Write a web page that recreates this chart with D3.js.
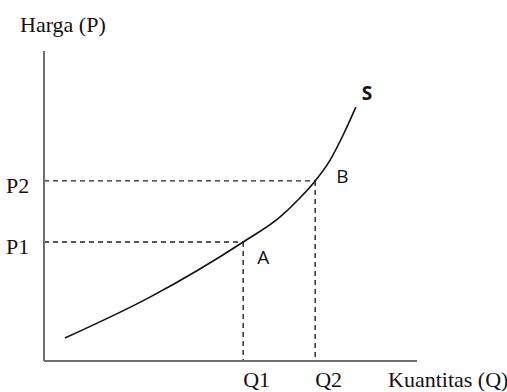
<!DOCTYPE html>
<html>
<head>
<meta charset="utf-8">
<script src="https://cdn.jsdelivr.net/npm/d3@7"></script>
<style>
	body { margin: 0; background: #fff; }
	svg { display: block; }
</style>
</head>
<body>
<div id="chart"></div>
<script>
var WIDTH = 507;
var HEIGHT = 392;

// supply curve S, in arbitrary units (0..100 on both axes)
var curveQ = [5.6, 28.4, 53.4, 63.3, 68.6, 72.7, 76.7, 80.2, 83.6];
var curveP = [7.4, 20.6, 38.4, 46.5, 52.6, 58.1, 64.8, 72.9, 81.9];

// the two marked points
var pointNames = ["A", "B"];
var pointQ = [53.4, 72.7];
var pointP = [38.4, 58.1];
var qLabels = ["Q1", "Q2"];
var pLabels = ["P1", "P2"];

var margin = { top: 51, right: 90, bottom: 31, left: 44 };

var svg = d3.select("#chart")
	.append("svg")
	.attr("width", WIDTH)
	.attr("height", HEIGHT);

var x = d3.scaleLinear().domain([0, 100]).range([margin.left, WIDTH - margin.right]);
var y = d3.scaleLinear().domain([0, 100]).range([HEIGHT - margin.bottom, margin.top]);

var serif = "'Liberation Serif', 'Times New Roman', serif";
var sans = "'Open Sans', 'Liberation Sans', sans-serif";

// dashed guides
var guides = svg.append("g")
	.attr("stroke", "#222")
	.attr("stroke-width", 1.4)
	.attr("stroke-dasharray", "5,4")
	.attr("fill", "none");

pointQ.forEach(function(q, i) {
	guides.append("line")
		.attr("x1", x(0)).attr("x2", x(q))
		.attr("y1", y(pointP[i])).attr("y2", y(pointP[i]));
	guides.append("line")
		.attr("x1", x(q)).attr("x2", x(q))
		.attr("y1", y(pointP[i])).attr("y2", y(0));
});

// axes
svg.append("line")
	.attr("x1", x(0)).attr("x2", x(0))
	.attr("y1", y(100)).attr("y2", y(0))
	.attr("stroke", "#6e6e6e").attr("stroke-width", 2);
svg.append("line")
	.attr("x1", x(0)).attr("x2", x(100))
	.attr("y1", y(0)).attr("y2", y(0))
	.attr("stroke", "#6e6e6e").attr("stroke-width", 2);

// curve
var line = d3.line()
	.x(function(d) { return x(d[0]); })
	.y(function(d) { return y(d[1]); })
	.curve(d3.curveMonotoneX);

svg.append("path")
	.datum(d3.zip(curveQ, curveP))
	.attr("d", line)
	.attr("fill", "none")
	.attr("stroke", "#111")
	.attr("stroke-width", 1.6);

// text labels
function label(txt, px, py, family, size, anchor, weight) {
	return svg.append("text")
		.attr("x", px).attr("y", py)
		.attr("text-anchor", anchor || "start")
		.style("font-family", family)
		.style("font-size", size + "px")
		.style("font-weight", weight || "normal")
		.attr("fill", "#111")
		.text(txt);
}

label("Harga (P)", 20, 32, serif, 22);
label("Kuantitas (Q)", 388, 387, serif, 22);

pLabels.forEach(function(t, i) {
	label(t, 6, y(pointP[i]) + 12, serif, 22);
});
qLabels.forEach(function(t, i) {
	label(t, x(pointQ[i]), 387, serif, 22);
});

label("A", x(pointQ[0]) + 14, y(pointP[0]) + 22, sans, 19);
label("B", x(pointQ[1]) + 21, y(pointP[1]) + 2, sans, 19);
label("S", x(curveQ[curveQ.length - 1]) + 6, 100, sans, 19, "start", "bold");
</script>
</body>
</html>
